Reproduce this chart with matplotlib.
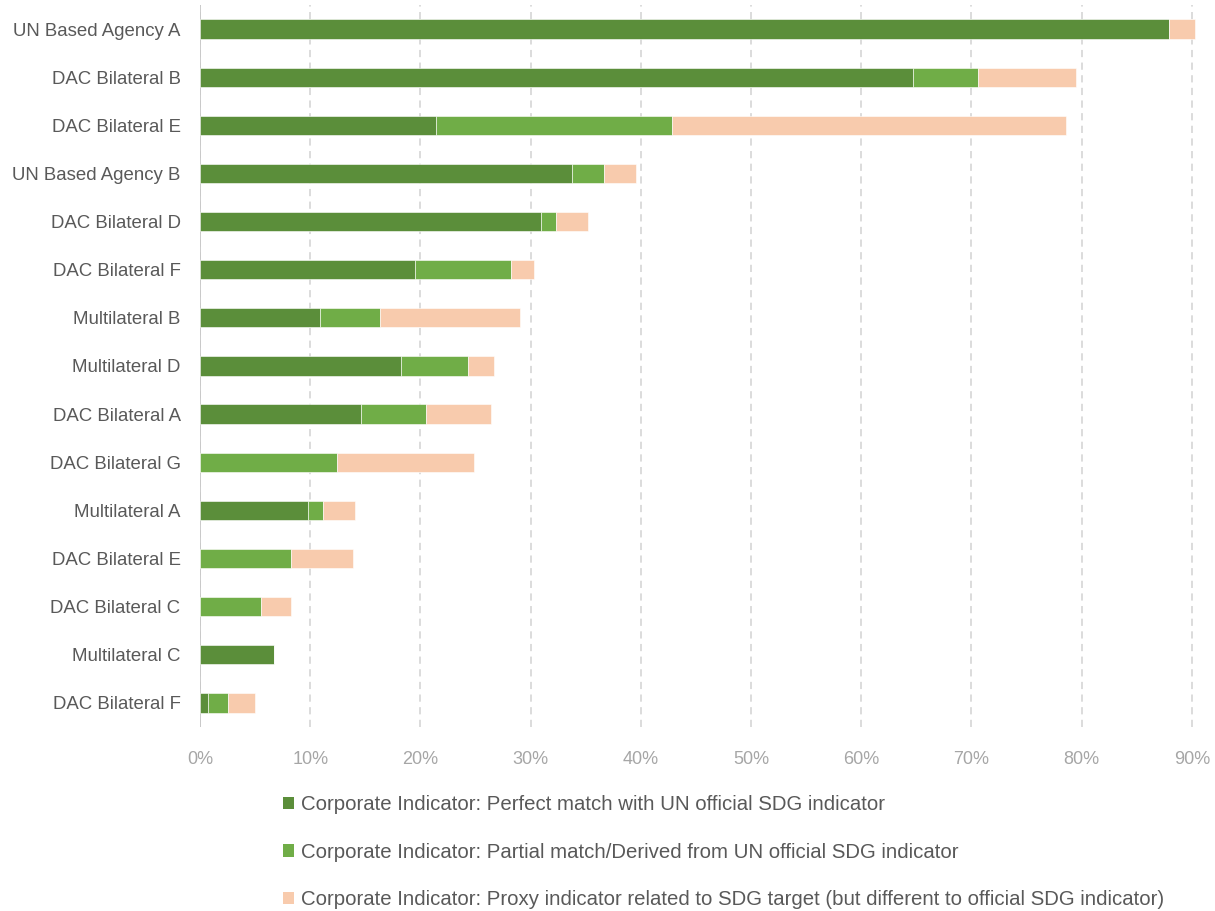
import matplotlib
matplotlib.use("Agg")
import matplotlib.pyplot as plt
from matplotlib.patches import Patch
import numpy as np

# Organisations, top to bottom
organisations = [
    "UN Based Agency A", "DAC Bilateral B", "DAC Bilateral E", "UN Based Agency B",
    "DAC Bilateral D", "DAC Bilateral F", "Multilateral B", "Multilateral D",
    "DAC Bilateral A", "DAC Bilateral G", "Multilateral A", "DAC Bilateral E",
    "DAC Bilateral C", "Multilateral C", "DAC Bilateral F",
]

# Share of corporate indicators (%) by type of alignment with SDG indicators
perfect_match = [87.9, 64.7, 21.4, 33.8, 30.9, 19.5, 10.9, 18.2, 14.6, 0.0, 9.8, 0.0, 0.0, 6.7, 0.7]
partial_match = [0.0, 5.9, 21.4, 2.9, 1.4, 8.7, 5.4, 6.1, 5.9, 12.4, 1.4, 8.3, 5.5, 0.0, 1.8]
proxy_indicator = [2.4, 8.9, 35.8, 2.9, 2.9, 2.1, 12.7, 2.4, 5.9, 12.5, 2.9, 5.6, 2.8, 0.0, 2.5]

series_labels = [
    "Corporate Indicator: Perfect match with UN official SDG indicator",
    "Corporate Indicator: Partial match/Derived from UN official SDG indicator",
    "Corporate Indicator: Proxy indicator related to SDG target (but different to official SDG indicator)",
]
series_colors = ["#5b8e3a", "#70ad47", "#f8cbad"]

x_ticks = [0, 10, 20, 30, 40, 50, 60, 70, 80, 90]

FONT = ["Liberation Sans Narrow", "Liberation Sans", "DejaVu Sans"]
plt.rcParams["font.family"] = FONT

fig = plt.figure(figsize=(12.15, 9.11), dpi=100)
ax = fig.add_axes([0.1646, 0.202, 0.8209, 0.7925])

y = np.arange(len(organisations))
left = np.zeros(len(organisations))
for vals, color in zip([perfect_match, partial_match, proxy_indicator], series_colors):
    vals = np.array(vals) / 100.0
    ax.barh(y, vals, left=left, height=0.4, color=color,
            edgecolor="white", linewidth=0.4, zorder=3, clip_on=False)
    left += vals

ax.set_ylim(len(organisations) - 0.5, -0.5)
ax.set_xlim(0, 0.905)
ax.set_xticks([t / 100 for t in x_ticks])
ax.set_xticklabels([f"{t}%" for t in x_ticks])
ax.set_yticks(y)
ax.set_yticklabels(organisations)

for s in ["top", "right", "bottom", "left"]:
    ax.spines[s].set_visible(False)
ax.axvline(0, color="#c8c8c8", lw=1.3, zorder=2)
ax.xaxis.grid(True, color="#d9d9d9", linestyle=(0, (4, 3)), linewidth=1.3, zorder=0)
ax.set_axisbelow(True)

ax.tick_params(axis="x", length=0, pad=17, labelsize=13, labelcolor="#a6a6a6")
ax.tick_params(axis="y", length=0, pad=14, labelsize=13.4, labelcolor="#595959")

handles = [Patch(facecolor=c, edgecolor="none") for c in series_colors]
fig.legend(handles, series_labels, loc="upper left",
           bbox_to_anchor=(0.226, 0.136), frameon=False,
           fontsize=14.7, labelcolor="#595959", handlelength=0.55, handleheight=0.55,
           handletextpad=0.35, labelspacing=1.4, borderaxespad=0)

fig.savefig("out.png", dpi=100, facecolor="white")
